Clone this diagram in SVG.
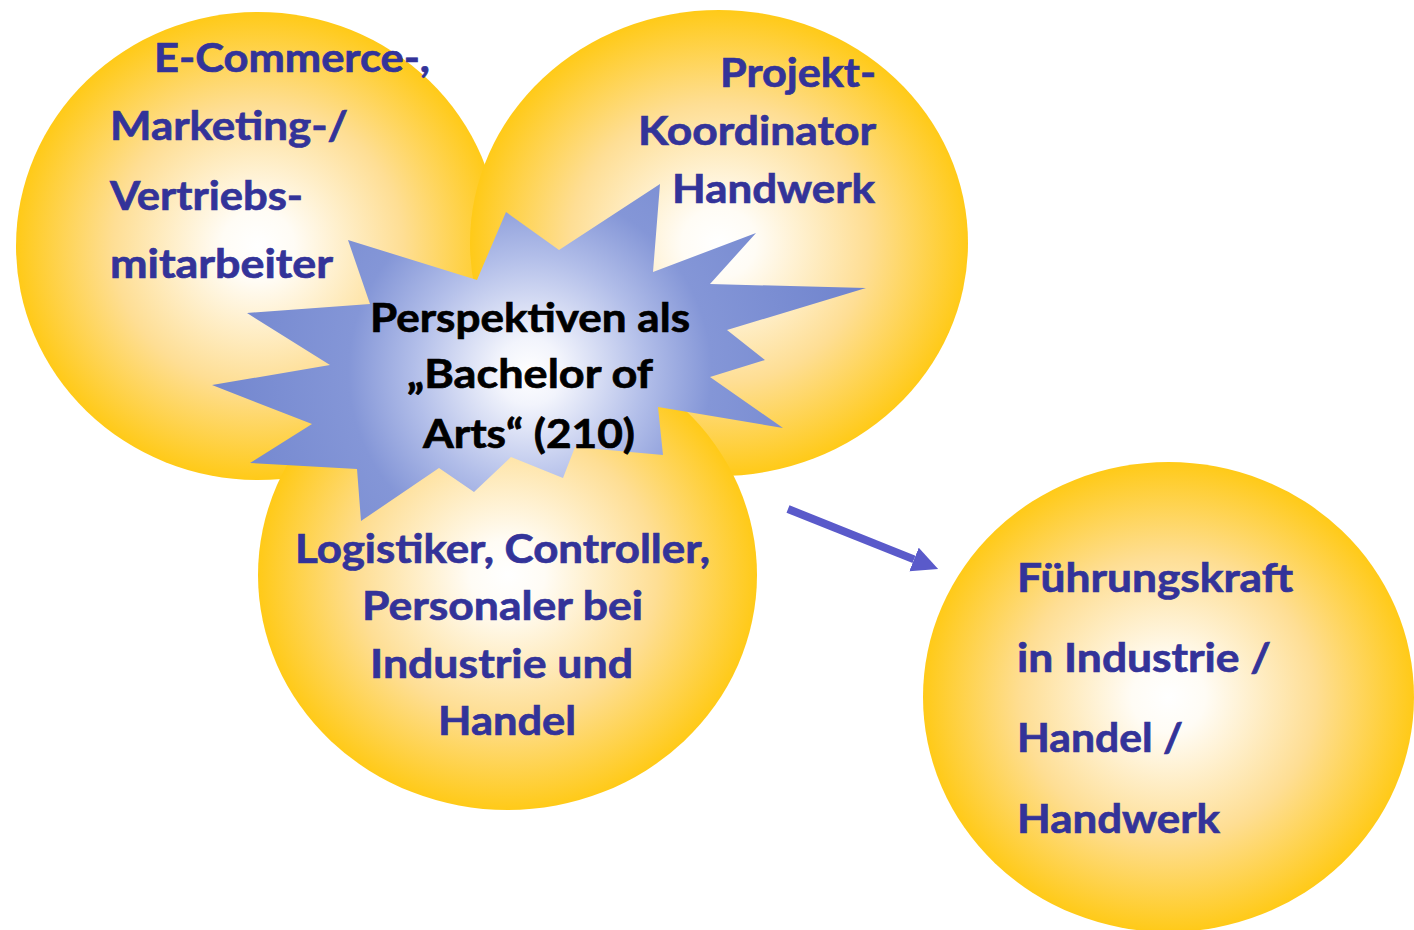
<svg xmlns="http://www.w3.org/2000/svg" width="1414" height="930" viewBox="0 0 1414 930">
<style>
.t{font-family:Lato,"Open Sans","Liberation Sans",sans-serif;font-weight:700;font-size:41px;fill:#333399;stroke:#333399;stroke-width:0.7px}
.s{font-family:Lato,"Open Sans","Liberation Sans",sans-serif;font-weight:700;font-size:40px;fill:#000;stroke:#000;stroke-width:0.7px}
</style>
<defs>
<radialGradient id="sun" cx="0.5" cy="0.5" r="0.5">
<stop offset="0" stop-color="#FFFFFF"/>
<stop offset="0.15" stop-color="#FFFCF5"/>
<stop offset="0.6" stop-color="#FEDE94"/>
<stop offset="1" stop-color="#FFCA18"/>
</radialGradient>
<radialGradient id="starG" gradientUnits="userSpaceOnUse" cx="530" cy="372" r="330">
<stop offset="0" stop-color="#FFFFFF"/>
<stop offset="0.1" stop-color="#F2F4FC"/>
<stop offset="0.35" stop-color="#B2BEE9"/>
<stop offset="0.55" stop-color="#8496D7"/>
<stop offset="1" stop-color="#7185CE"/>
</radialGradient>
<marker id="ah" markerUnits="userSpaceOnUse" markerWidth="27" markerHeight="26" refX="0" refY="12.65" orient="auto">
<path d="M0,0 L26,12.65 L0,25.3 Z" fill="#5A5ACA"/>
</marker>
</defs>
<g id="circle-marketing">
<ellipse cx="258" cy="246" rx="242" ry="234" fill="url(#sun)"/>
</g>
<g id="circle-projekt">
<ellipse cx="719" cy="243" rx="249" ry="233" fill="url(#sun)"/>
</g>
<g id="circle-logistik">
<ellipse cx="507.5" cy="575" rx="249.5" ry="235" fill="url(#sun)"/>
</g>
<g id="circle-fuehrung">
<ellipse cx="1168.5" cy="697" rx="245.5" ry="235" fill="url(#sun)"/>
</g>
<g id="star">
<polygon fill="url(#starG)" points="660,184 653,272 756,233 710,284 866,288 727,330 765,360 710,377 783,428 658,407 663,455 575,447 563,478 511,457 474,492 439,468 361,521 357,469 250,463 312,424 212,385 330,365 247,313 370,304 348,240 477,280 506,212 559,250"/>
</g>
<g id="connectors">
<line x1="788" y1="509" x2="914" y2="559.4" stroke="#5A5ACA" stroke-width="8" marker-end="url(#ah)"/>
</g>
<g id="text-marketing">
<text class="t" x="154" y="72" textLength="276" lengthAdjust="spacingAndGlyphs">E-Commerce-,</text>
<text class="t" x="110" y="140" textLength="238" lengthAdjust="spacingAndGlyphs">Marketing-/</text>
<text class="t" x="110" y="210" textLength="193" lengthAdjust="spacingAndGlyphs">Vertriebs-</text>
<text class="t" x="110" y="278" textLength="223" lengthAdjust="spacingAndGlyphs">mitarbeiter</text>
</g>
<g id="text-projekt">
<text class="t" x="720" y="87" textLength="156" lengthAdjust="spacingAndGlyphs">Projekt-</text>
<text class="t" x="638" y="145" textLength="238" lengthAdjust="spacingAndGlyphs">Koordinator</text>
<text class="t" x="672" y="203" textLength="203" lengthAdjust="spacingAndGlyphs">Handwerk</text>
</g>
<g id="text-logistik">
<text class="t" x="295" y="563" textLength="415" lengthAdjust="spacingAndGlyphs">Logistiker, Controller,</text>
<text class="t" x="362" y="620" textLength="281" lengthAdjust="spacingAndGlyphs">Personaler bei</text>
<text class="t" x="370" y="678" textLength="263" lengthAdjust="spacingAndGlyphs">Industrie und</text>
<text class="t" x="438" y="735" textLength="138" lengthAdjust="spacingAndGlyphs">Handel</text>
</g>
<g id="text-fuehrung">
<text class="t" x="1017" y="592" textLength="276" lengthAdjust="spacingAndGlyphs">Führungskraft</text>
<text class="t" x="1017" y="672" textLength="254" lengthAdjust="spacingAndGlyphs">in Industrie /</text>
<text class="t" x="1017" y="752" textLength="166" lengthAdjust="spacingAndGlyphs">Handel /</text>
<text class="t" x="1017" y="833" textLength="203" lengthAdjust="spacingAndGlyphs">Handwerk</text>
</g>
<g id="text-star">
<text class="s" x="370" y="332" textLength="320" lengthAdjust="spacingAndGlyphs">Perspektiven als</text>
<text class="s" x="407" y="388" textLength="246" lengthAdjust="spacingAndGlyphs">„Bachelor of</text>
<text class="s" x="423" y="448" textLength="212" lengthAdjust="spacingAndGlyphs">Arts“ (210)</text>
</g>
</svg>
